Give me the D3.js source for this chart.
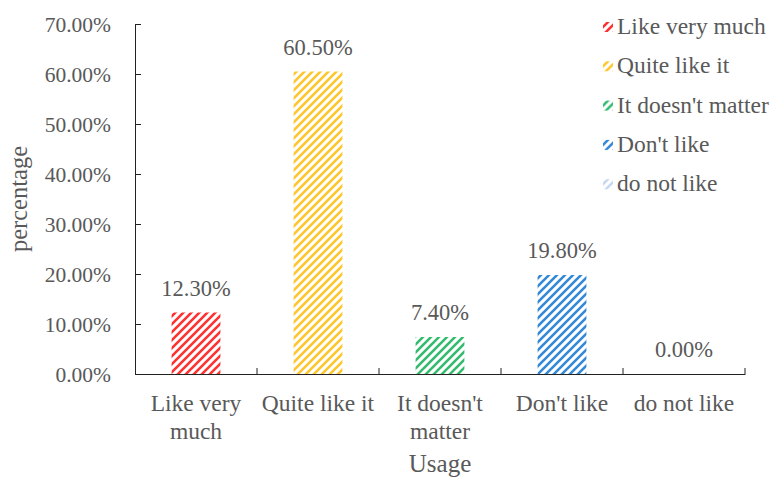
<!DOCTYPE html>
<html>
<head>
<meta charset="utf-8">
<script src="https://cdn.jsdelivr.net/npm/d3@7"></script>
<style>
  body { margin: 0; background: #fff; }
  svg text { font-family: "Liberation Serif", "Times New Roman", serif !important; fill: #595959; }
</style>
</head>
<body>
<div class="chart"></div>
<script>
var categories = ["Like very much", "Quite like it", "It doesn't matter", "Don't like", "do not like"];
var labelLines = [["Like very", "much"], ["Quite like it"], ["It doesn't", "matter"], ["Don't like"], ["do not like"]];
var values = [12.3, 60.5, 7.4, 19.8, 0.0];
var colors = ["#ff3030", "#ffc629", "#33bb6e", "#3389d6", "#c4d8f0"];
var yTicks = [0, 10, 20, 30, 40, 50, 60, 70];

var width = 773, height = 477;
var plotLeft = 135, plotRight = 745, plotTop = 24, plotBottom = 374;

var svg = d3.select(".chart")
    .append("svg")
    .attr("width", width)
    .attr("height", height);

// striped fills
var defs = svg.append("defs");
colors.forEach(function (c, i) {
    var p = defs.append("pattern")
        .attr("id", "stripe" + i)
        .attr("patternUnits", "userSpaceOnUse")
        .attr("width", 8)
        .attr("height", 8);
    p.append("path")
        .attr("d", "M0,8 L8,0 M-2,2 L2,-2 M6,10 L10,6")
        .attr("stroke", c)
        .attr("stroke-width", 2.6);
});

var x = d3.scaleBand()
    .domain(categories)
    .range([plotLeft, plotRight])
    .paddingInner(0.6)
    .paddingOuter(0.3);

var xBand = d3.scaleBand().domain(categories).range([plotLeft, plotRight]);

var y = d3.scaleLinear()
    .domain([0, 70])
    .range([plotBottom, plotTop]);

svg.selectAll("rect.bar")
    .data(values)
    .enter()
    .append("rect")
    .attr("class", "bar")
    .attr("x", function (d, i) { return x(categories[i]); })
    .attr("width", x.bandwidth())
    .attr("y", function (d) { return y(d); })
    .attr("height", function (d) { return plotBottom - y(d); })
    .attr("fill", function (d, i) { return "url(#stripe" + i + ")"; });

svg.selectAll("text.val")
    .data(values)
    .enter()
    .append("text")
    .attr("class", "val")
    .attr("x", function (d, i) { return x(categories[i]) + x.bandwidth() / 2; })
    .attr("y", function (d) { return y(d) - 17; })
    .attr("text-anchor", "middle")
    .attr("font-size", 22.5)
    .text(function (d) { return d.toFixed(2) + "%"; });

// y axis
var yAxis = svg.append("g")
    .attr("transform", "translate(" + plotLeft + ",0)")
    .call(d3.axisLeft(y).tickValues(yTicks).tickSizeInner(-6).tickSizeOuter(-6).tickPadding(24)
        .tickFormat(function (d) { return d.toFixed(2) + "%"; }));
yAxis.selectAll("text").attr("font-size", 21.5).attr("dy", "0.35em");
yAxis.select(".domain").attr("stroke", "#222");
yAxis.selectAll(".tick line").attr("stroke", "#222");

// x axis
var xAxis = svg.append("g")
    .attr("transform", "translate(0," + plotBottom + ")")
    .call(d3.axisBottom(xBand).tickSize(0).tickFormat(""));
xAxis.select(".domain").attr("stroke", "#222");
xAxis.selectAll(".tick").remove();
xAxis.selectAll("line.sep")
    .data(categories)
    .enter()
    .append("line")
    .attr("class", "sep")
    .attr("x1", function (d) { return xBand(d) + xBand.bandwidth(); })
    .attr("x2", function (d) { return xBand(d) + xBand.bandwidth(); })
    .attr("y1", 0)
    .attr("y2", -6)
    .attr("stroke", "#222");

var xl = svg.selectAll("text.xl")
    .data(labelLines)
    .enter()
    .append("text")
    .attr("class", "xl")
    .attr("text-anchor", "middle")
    .attr("font-size", 23.5)
    .attr("x", function (d, i) { return xBand(categories[i]) + xBand.bandwidth() / 2; })
    .attr("y", 411);
xl.selectAll("tspan")
    .data(function (d) { return d; })
    .enter()
    .append("tspan")
    .attr("x", function () { return d3.select(this.parentNode).attr("x"); })
    .attr("dy", function (d, i) { return i === 0 ? 0 : 28; })
    .text(function (d) { return d; });

svg.append("text")
    .attr("x", (plotLeft + plotRight) / 2)
    .attr("y", 472)
    .attr("text-anchor", "middle")
    .attr("font-size", 25)
    .text("Usage");

svg.append("text")
    .attr("transform", "translate(27," + ((plotTop + plotBottom) / 2) + ") rotate(-90)")
    .attr("text-anchor", "middle")
    .attr("font-size", 24.5)
    .text("percentage");

// legend
var legend = svg.selectAll("g.leg")
    .data(categories)
    .enter()
    .append("g")
    .attr("class", "leg")
    .attr("transform", function (d, i) { return "translate(603," + (27 + i * 39.3) + ")"; });
legend.append("rect")
    .attr("x", 0).attr("y", -5).attr("width", 10).attr("height", 10)
    .attr("fill", function (d, i) { return "url(#stripe" + i + ")"; });
legend.append("text")
    .attr("x", 14)
    .attr("y", 7)
    .attr("font-size", 23.5)
    .text(function (d) { return d; });
</script>
</body>
</html>
